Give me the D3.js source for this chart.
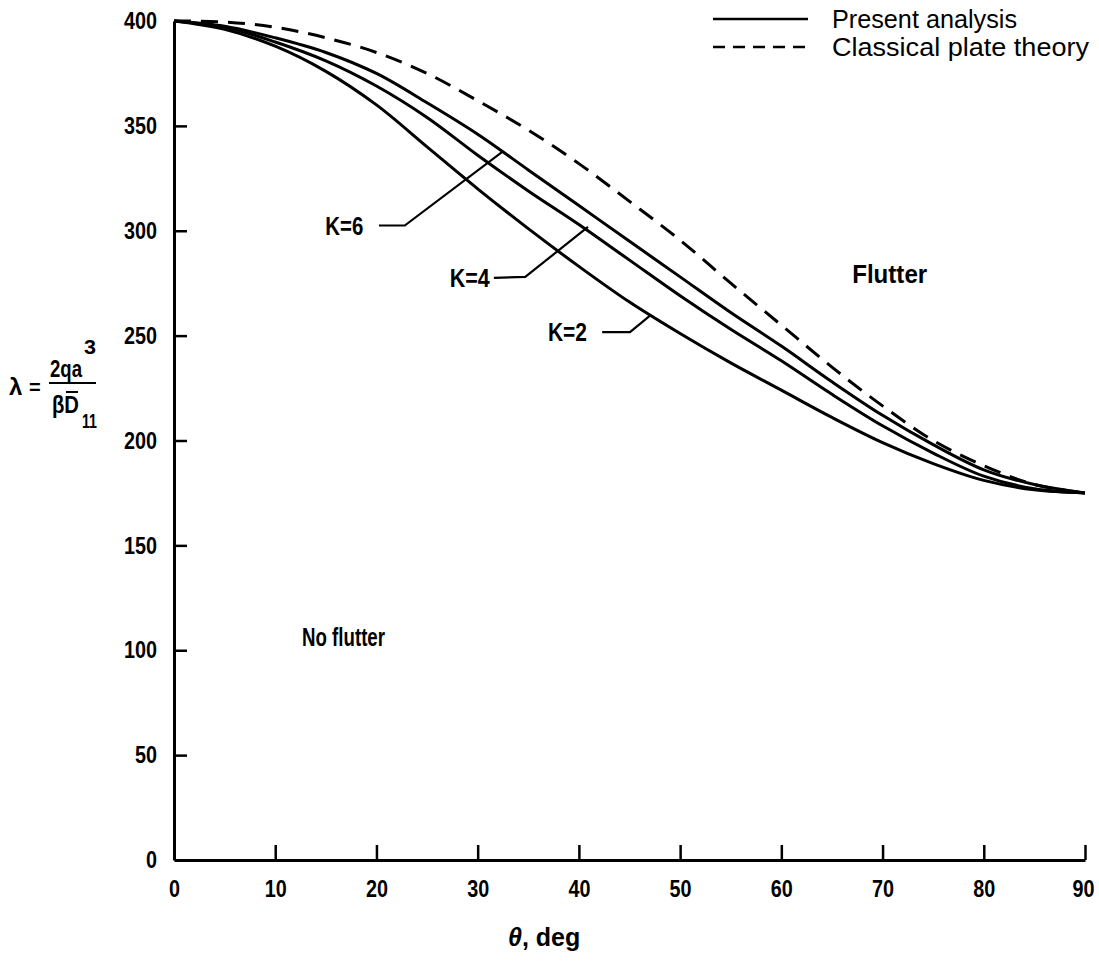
<!DOCTYPE html>
<html>
<head>
<meta charset="utf-8">
<script src="https://cdn.jsdelivr.net/npm/d3@7"></script>
<style>
  html, body { margin: 0; padding: 0; background: #fff; }
  svg { display: block; }
  text { font-family: "Liberation Sans", Arial, sans-serif; fill: #000; }
</style>
</head>
<body>
<svg id="chart" width="1099" height="965"></svg>
<script>
// ---- data ----
const thetaDeg = [0, 5, 10, 15, 20, 25, 30, 35, 40, 45, 50, 55, 60, 65, 70, 75, 80, 85, 90];
const lambdaK2 = [400, 396, 388, 376, 360, 340, 320, 301, 283, 266, 251, 237, 224, 211, 199, 189, 181, 176.5, 175];
const lambdaK4 = [400, 397, 390, 381, 369, 354, 336, 319, 303, 286, 269, 253, 238, 222, 207, 194, 183, 177, 175];
const lambdaK6 = [400, 397.5, 392, 385, 375, 361, 346, 329, 312, 295, 278, 261, 245, 228, 212, 198, 186, 179, 175];
const lambdaClassical = [400, 399.5, 397, 392, 385, 375, 362, 348, 332, 314, 295.5, 275, 255, 235, 216.5, 200, 188, 179, 175];

const xTicks = [0, 10, 20, 30, 40, 50, 60, 70, 80, 90];
const yTicks = [0, 50, 100, 150, 200, 250, 300, 350, 400];

const legendLabels = ["Present analysis", "Classical plate theory"];
const regionLabels = [
  { text: "Flutter", deg: 67, val: 275, w: 75 },
  { text: "No flutter", deg: 12.65, val: 102, w: 83 }
];
// curve labels: text anchor point and leader polyline (data units)
const curveLabels = [
  { text: "K=6", deg: 18.7, val: 302.5, w: 38, leader: [[20.25, 302.5], [22.8, 302.5], [32.4, 337.5]] },
  { text: "K=4", deg: 31.2, val: 277.5, w: 40, leader: [[31.6, 277.5], [34.7, 278], [40.9, 301.8]] },
  { text: "K=2", deg: 40.8, val: 251.7, w: 39, leader: [[42.3, 251.7], [45.05, 251.7], [47.0, 259.4]] }
];

// ---- layout ----
const svg = d3.select("#chart");
const x = d3.scaleLinear().domain([0, 90]).range([174, 1085]);
const y = d3.scaleLinear().domain([0, 400]).range([860, 21]);

const line = d3.line()
  .x((d, i) => x(thetaDeg[i]))
  .y(d => y(d))
  .curve(d3.curveCatmullRom.alpha(0.5));

// axes
const xAxis = d3.axisBottom(x).tickValues(xTicks).tickSize(-15).tickSizeOuter(0).tickPadding(20);
const yAxis = d3.axisLeft(y).tickValues(yTicks).tickSize(-13).tickSizeOuter(0).tickPadding(17);

const gx = svg.append("g").attr("transform", "translate(0,860)").call(xAxis);
const gy = svg.append("g").attr("transform", "translate(174,0)").call(yAxis);

[gx, gy].forEach(g => {
  g.select(".domain").attr("stroke", "#000").attr("stroke-width", 3);
  g.selectAll(".tick line").attr("stroke", "#000").attr("stroke-width", 2.5);
  g.selectAll(".tick text")
    .attr("fill", "#000")
    .style("font-family", '"Liberation Sans", Arial, sans-serif')
    .style("font-size", "24px")
    .style("font-weight", "bold")
    .attr("textLength", d => String(d).length * 11)
    .attr("lengthAdjust", "spacingAndGlyphs");
});
gx.selectAll(".tick").filter(d => d === 0).select("line").remove();
gy.selectAll(".tick").filter(d => d === 0).select("line").remove();
gx.selectAll(".tick").filter(d => d === 90).select("text").attr("dx", -2);

// curves
const series = [
  { vals: lambdaK2, dash: null },
  { vals: lambdaK4, dash: null },
  { vals: lambdaK6, dash: null },
  { vals: lambdaClassical, dash: "17,10" }
];
svg.append("g").selectAll("path").data(series).join("path")
  .attr("d", d => line(d.vals))
  .attr("fill", "none")
  .attr("stroke", "#000")
  .attr("stroke-width", 3)
  .attr("stroke-dasharray", d => d.dash);

// curve labels + leaders
const leaderLine = d3.line().x(d => x(d[0])).y(d => y(d[1]));
const cl = svg.append("g");
cl.selectAll("path").data(curveLabels).join("path")
  .attr("d", d => leaderLine(d.leader))
  .attr("fill", "none").attr("stroke", "#000").attr("stroke-width", 2.2);
cl.selectAll("text").data(curveLabels).join("text")
  .attr("x", d => x(d.deg)).attr("y", d => y(d.val))
  .attr("dy", "0.36em")
  .attr("text-anchor", "end")
  .attr("textLength", d => d.w).attr("lengthAdjust", "spacingAndGlyphs")
  .style("font-size", "25px").style("font-weight", "bold")
  .text(d => d.text);

// region labels
svg.append("g").selectAll("text").data(regionLabels).join("text")
  .attr("x", d => x(d.deg)).attr("y", d => y(d.val))
  .attr("textLength", d => d.w).attr("lengthAdjust", "spacingAndGlyphs")
  .style("font-size", "25px").style("font-weight", "bold")
  .text(d => d.text);

// legend
const lg = svg.append("g");
lg.append("line").attr("x1", 713).attr("x2", 808).attr("y1", 19).attr("y2", 19)
  .attr("stroke", "#000").attr("stroke-width", 2.5);
lg.append("line").attr("x1", 713).attr("x2", 808).attr("y1", 47).attr("y2", 47)
  .attr("stroke", "#000").attr("stroke-width", 2.5).attr("stroke-dasharray", "12,8");
lg.selectAll("text").data(legendLabels).join("text")
  .attr("x", 832).attr("y", (d, i) => 28 + i * 28)
  .attr("textLength", (d, i) => [185, 257][i]).attr("lengthAdjust", "spacingAndGlyphs")
  .style("font-size", "25px")
  .text(d => d);

// axis title
const xt = svg.append("text").attr("x", 508).attr("y", 946)
  .style("font-size", "25px").style("font-weight", "bold");
xt.append("tspan").style("font-style", "italic").text("θ");
xt.append("tspan").text(", deg");

// y label: λ = 2qa³ / βD̄11
const yl = svg.append("g").style("font-weight", "bold");
yl.append("text").attr("x", 9).attr("y", 395).style("font-size", "24px").text("λ");
yl.append("text").attr("x", 29).attr("y", 394).style("font-size", "20px").text("=");
yl.append("text").attr("x", 50).attr("y", 377).style("font-size", "24px")
  .attr("textLength", 32).attr("lengthAdjust", "spacingAndGlyphs").text("2qa");
yl.append("text").attr("x", 84).attr("y", 354).style("font-size", "21px")
  .attr("textLength", 12).attr("lengthAdjust", "spacingAndGlyphs").text("3");
yl.append("line").attr("x1", 49).attr("x2", 96).attr("y1", 383).attr("y2", 383)
  .attr("stroke", "#000").attr("stroke-width", 2);
yl.append("text").attr("x", 52).attr("y", 413).style("font-size", "24px")
  .attr("textLength", 27).attr("lengthAdjust", "spacingAndGlyphs").text("βD");
yl.append("line").attr("x1", 66).attr("x2", 78).attr("y1", 392).attr("y2", 392)
  .attr("stroke", "#000").attr("stroke-width", 2);
yl.append("text").attr("x", 82).attr("y", 428).style("font-size", "20px")
  .attr("textLength", 15).attr("lengthAdjust", "spacingAndGlyphs").text("11");
</script>
</body>
</html>
